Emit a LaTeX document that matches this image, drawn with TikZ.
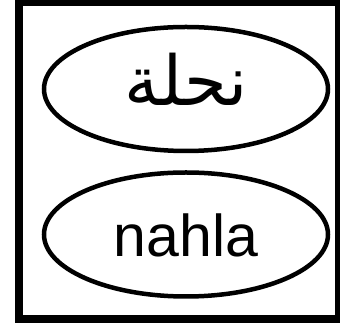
\documentclass[tikz,border=0pt]{standalone}
\usepackage{fontspec}
\usetikzlibrary{shapes.geometric}
\setmainfont{Liberation Sans}
\newfontfamily\arabicfont[Script=Arabic]{DejaVu Sans}
\TeXXeTstate=1
\begin{document}
\begin{tikzpicture}[x=1pt,y=1pt,
  frame/.style={line width=8pt},
  oval/.style={draw,line width=4.5pt,ellipse,minimum width=284pt,minimum height=124pt,inner sep=0pt}]
\useasboundingbox (0,0) rectangle (340,326);
\draw[frame] (19,7) rectangle (339,324);
\node[oval] (ar) at (186,237) {};
\node[font=\arabicfont\fontsize{69}{80}\selectfont] (art) at (186,247) {\beginR نحلة\endR};
\node[oval] (en) at (186,91.5) {};
\node[font=\fontsize{59}{70}\selectfont] (ent) at (186,91) {nahla};
\end{tikzpicture}
\end{document}
